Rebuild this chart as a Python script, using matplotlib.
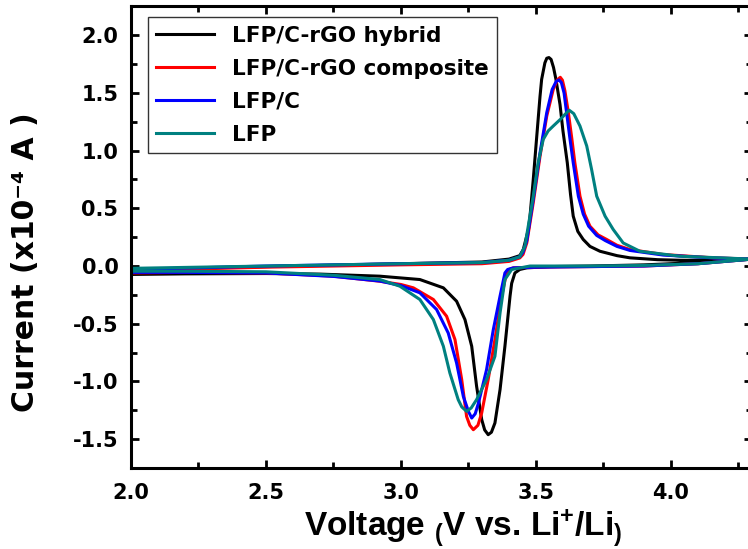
import matplotlib
matplotlib.use('Agg')
import matplotlib.pyplot as plt
from matplotlib.ticker import MultipleLocator

plt.rcParams['font.family'] = ['DejaVu Sans']
plt.rcParams['font.weight'] = 'bold'
plt.rcParams['axes.unicode_minus'] = False
plt.rcParams['mathtext.fontset'] = 'custom'
plt.rcParams['mathtext.bf'] = 'Liberation Sans:bold'
plt.rcParams['mathtext.rm'] = 'Liberation Sans:bold'
plt.rcParams['mathtext.default'] = 'bf'

labels = ['LFP/C-rGO hybrid', 'LFP/C-rGO composite', 'LFP/C', 'LFP']
colors = ['black', '#ff0000', '#0000ff', '#008080']

# LFP/C-rGO hybrid (anodic sweep then cathodic sweep)
hyb_v = [2.0, 2.5, 3.0, 3.3, 3.4, 3.44, 3.453, 3.472, 3.478, 3.49, 3.50, 3.515, 3.521, 3.533, 3.54,
         3.548, 3.556, 3.565, 3.574, 3.589, 3.60, 3.616, 3.628, 3.638, 3.655, 3.675, 3.70, 3.737,
         3.80, 3.848, 3.95, 4.033, 4.15, 4.3,
         4.1, 3.9, 3.7, 3.55, 3.466, 3.44, 3.422, 3.41, 3.404, 3.385, 3.367, 3.348, 3.335, 3.323,
         3.31, 3.299, 3.28, 3.262, 3.237, 3.206, 3.157, 3.07, 2.922, 2.7, 2.5, 2.2, 2.0]
hyb_i = [-0.03, -0.005, 0.02, 0.035, 0.06, 0.09, 0.143, 0.317, 0.432, 0.75, 1.04, 1.47, 1.617, 1.76, 1.80,
         1.806, 1.79, 1.72, 1.617, 1.40, 1.17, 0.895, 0.62, 0.432, 0.30, 0.23, 0.17, 0.128,
         0.09, 0.071, 0.055, 0.05, 0.05, 0.06,
         0.03, 0.01, 0.0, -0.005, -0.016, -0.03, -0.06, -0.15, -0.26, -0.695, -1.07, -1.36, -1.44, -1.461,
         -1.42, -1.33, -1.04, -0.695, -0.464, -0.305, -0.189, -0.117, -0.088, -0.07, -0.065, -0.068, -0.073]

# LFP/C-rGO composite
comp_v = [2.0, 2.5, 3.0, 3.3, 3.4, 3.44, 3.452, 3.466, 3.49, 3.515, 3.54, 3.564, 3.58, 3.59,
          3.598, 3.607, 3.62, 3.633, 3.644, 3.663, 3.68, 3.70, 3.73, 3.762, 3.80, 3.848, 3.971, 4.157, 4.3,
          4.1, 3.9, 3.7, 3.5, 3.416, 3.40, 3.391, 3.373, 3.348, 3.323, 3.299, 3.285, 3.268,
          3.255, 3.243, 3.225, 3.20, 3.169, 3.12, 3.046, 3.0, 2.922, 2.75, 2.5, 2.2, 2.0]
comp_i = [-0.04, -0.01, 0.01, 0.02, 0.04, 0.07, 0.10, 0.20, 0.55, 0.95, 1.30, 1.53, 1.615, 1.635,
          1.61, 1.52, 1.33, 1.10, 0.895, 0.605, 0.45, 0.345, 0.27, 0.23, 0.18, 0.143, 0.10, 0.071, 0.06,
          0.02, 0.0, -0.005, -0.01, -0.016, -0.03, -0.06, -0.26, -0.637, -0.984, -1.273, -1.38, -1.418,
          -1.38, -1.303, -0.984, -0.637, -0.435, -0.29, -0.189, -0.16, -0.132, -0.088, -0.06, -0.055, -0.06]

# LFP/C
lfpc_v = [2.0, 2.5, 3.0, 3.3, 3.4, 3.44, 3.452, 3.466, 3.49, 3.515, 3.54, 3.56, 3.575, 3.585,
          3.594, 3.604, 3.615, 3.626, 3.638, 3.657, 3.675, 3.695, 3.725, 3.757, 3.80, 3.848, 3.971, 4.157, 4.3,
          4.1, 3.9, 3.7, 3.5, 3.416, 3.395, 3.385, 3.367, 3.342, 3.317, 3.287, 3.275, 3.262,
          3.25, 3.231, 3.206, 3.175, 3.132, 3.07, 3.0, 2.922, 2.75, 2.5, 2.2, 2.0]
lfpc_i = [-0.03, 0.0, 0.02, 0.03, 0.05, 0.08, 0.12, 0.22, 0.58, 0.98, 1.33, 1.53, 1.60, 1.612,
          1.59, 1.50, 1.30, 1.10, 0.895, 0.605, 0.45, 0.345, 0.265, 0.22, 0.17, 0.135, 0.095, 0.07, 0.06,
          0.02, 0.0, -0.005, -0.01, -0.016, -0.03, -0.06, -0.26, -0.551, -0.898, -1.187, -1.28, -1.317,
          -1.26, -1.13, -0.84, -0.58, -0.377, -0.232, -0.17, -0.13, -0.09, -0.06, -0.055, -0.055]

# LFP
lfp_v = [2.0, 2.5, 3.0, 3.3, 3.4, 3.44, 3.459, 3.49, 3.508, 3.527, 3.545, 3.564, 3.59, 3.61, 3.623,
         3.64, 3.663, 3.688, 3.706, 3.725, 3.756, 3.786, 3.823, 3.885, 4.033, 4.3,
         4.1, 3.9, 3.7, 3.478, 3.41, 3.385, 3.367, 3.348, 3.317, 3.28, 3.26, 3.243,
         3.225, 3.212, 3.181, 3.157, 3.12, 3.07, 2.996, 2.922, 2.75, 2.5, 2.2, 2.0]
lfp_i = [-0.02, 0.0, 0.02, 0.03, 0.05, 0.08, 0.172, 0.605, 0.895, 1.097, 1.17, 1.213, 1.27, 1.32, 1.35,
         1.32, 1.213, 1.04, 0.837, 0.605, 0.432, 0.317, 0.20, 0.128, 0.085, 0.06,
         0.02, 0.005, 0.0, 0.0, -0.03, -0.117, -0.406, -0.782, -0.984, -1.158, -1.23, -1.259,
         -1.22, -1.158, -0.926, -0.695, -0.464, -0.29, -0.175, -0.117, -0.08, -0.05, -0.045, -0.045]

series = [(hyb_v, hyb_i), (comp_v, comp_i), (lfpc_v, lfpc_i), (lfp_v, lfp_i)]

fig = plt.figure(figsize=(7.48, 5.49), dpi=100)
ax = fig.add_axes([0.1751, 0.1475, 0.8302, 0.841])

for (v, i), c, lab in zip(series, colors, labels):
    ax.plot(v, i, color=c, lw=2.2, label=lab, solid_joinstyle='round')

ax.set_xlim(2.0, 4.3)
ax.set_ylim(-1.75, 2.25)
ax.xaxis.set_minor_locator(MultipleLocator(0.25))
ax.yaxis.set_minor_locator(MultipleLocator(0.25))
ax.set_yticks([-1.5, -1.0, -0.5, 0.0, 0.5, 1.0, 1.5, 2.0])
ax.set_xticks([2.0, 2.5, 3.0, 3.5, 4.0])
ax.tick_params(which='both', direction='in', top=True, right=True, width=2, labelsize=15)
ax.tick_params(axis='y', pad=9)
ax.tick_params(axis='x', pad=11)
ax.tick_params(which='major', length=6)
ax.tick_params(which='minor', length=4)
for s in ax.spines.values():
    s.set_linewidth(2.2)

# axis titles
fig.text(304 / 748, 1 - 537 / 549, 'Voltage $_($V vs. Li$^{+}$/Li$_)$', fontsize=24,
         fontweight='bold', family='Liberation Sans', ha='left', va='baseline')
fig.text(26 / 748, 1 - 262 / 549, 'Current (x10\u207b\u2074 A )', fontsize=21.5,
         fontweight='bold', rotation=90, ha='center', va='center')

leg = ax.legend(loc='upper left', bbox_to_anchor=(0.027, 0.976), fontsize=15.5, frameon=True,
                fancybox=False, edgecolor='black', handlelength=2.7, handletextpad=0.8,
                labelspacing=0.6, borderaxespad=0)
leg.get_frame().set_linewidth(1.0)

fig.savefig('out.png', dpi=100)
